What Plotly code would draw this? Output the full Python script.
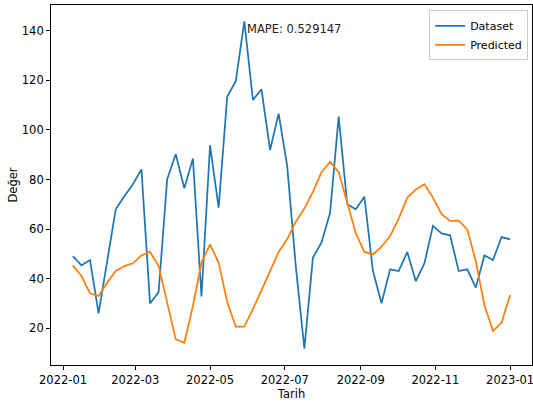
import pandas as pd
import plotly.graph_objects as go

# Weekly observation dates (Sundays)
dates = pd.date_range("2022-01-09", "2023-01-01", freq="7D")

dataset = [
    49.1, 45.4, 47.5, 26.0, 47.0, 68.0, 73.3, 78.1, 84.1, 30.0,
    34.6, 80.1, 90.2, 76.5, 88.5, 32.8, 93.8, 68.7, 113.4, 119.7,
    143.8, 112.1, 116.4, 91.9, 106.6, 85.4, 45.0, 11.8, 48.5, 54.6,
    66.6, 105.4, 70.0, 68.0, 73.1, 43.1, 30.1, 43.8, 43.1, 50.8,
    39.0, 46.2, 61.3, 58.3, 57.5, 43.1, 43.8, 36.4, 49.4, 47.5,
    56.8, 55.9,
]

predicted = [
    45.4, 41.1, 34.1, 33.0, 38.4, 43.1, 45.1, 46.2, 49.4, 50.9,
    45.1, 30.4, 15.6, 14.2, 29.0, 46.5, 53.9, 46.5, 30.6, 20.7,
    20.7, 27.7, 35.7, 43.1, 50.8, 56.0, 63.0, 68.3, 75.0, 83.0,
    87.1, 83.0, 70.7, 58.3, 50.8, 49.8, 52.9, 57.2, 64.2, 72.7,
    76.0, 78.1, 72.7, 66.0, 63.3, 63.4, 59.9, 47.0, 29.3, 18.9,
    22.3, 33.4,
]

mape_text = "MAPE: 0.529147"
x_ticks = ["2022-01-01", "2022-03-01", "2022-05-01", "2022-07-01",
           "2022-09-01", "2022-11-01", "2023-01-01"]
y_ticks = [20, 40, 60, 80, 100, 120, 140]

BLUE = "#1f77b4"
ORANGE = "#ff7f0e"
FONT = "DejaVu Sans"

fig = go.Figure()
fig.add_trace(go.Scatter(x=dates, y=dataset, mode="lines", name="Dataset",
                         line=dict(color=BLUE, width=1.75)))
fig.add_trace(go.Scatter(x=dates, y=predicted, mode="lines", name="Predicted",
                         line=dict(color=ORANGE, width=1.75)))

# 5% padding around the data, like matplotlib's default margins
span = dates[-1] - dates[0]
x_range = [dates[0] - span * 0.05, dates[-1] + span * 0.05]
all_vals = dataset + predicted
lo, hi = min(all_vals), max(all_vals)
pad = (hi - lo) * 0.05
y_range = [lo - pad, hi + pad]

peak_idx = dataset.index(max(dataset))
fig.add_annotation(x=dates[peak_idx], y=dataset[peak_idx], text=mape_text,
                   showarrow=False, xanchor="left", yanchor="top",
                   xshift=1, yshift=1,
                   font=dict(family=FONT, size=11.5, color="#222"))

axis_common = dict(
    showline=True, linecolor="black", linewidth=0.9, mirror=True,
    ticks="outside", ticklen=4, tickwidth=0.9, tickcolor="black",
    showgrid=False, zeroline=False, automargin=False,
    ticklabeloverflow="allow",
    tickfont=dict(family=FONT, size=11.5, color="black"),
)

fig.update_layout(
    width=533, height=403,
    margin=dict(l=51, r=1, t=5, b=38),
    paper_bgcolor="white", plot_bgcolor="white",
    font=dict(family=FONT, size=11.5, color="black"),
    showlegend=True,
    legend=dict(x=0.992, y=0.985, xanchor="right", yanchor="top",
                bgcolor="rgba(255,255,255,0.8)", bordercolor="#cccccc",
                borderwidth=1, itemwidth=30,
                font=dict(family=FONT, size=11, color="black"),
                tracegroupgap=0),
    xaxis=dict(axis_common, range=x_range, tickvals=x_ticks, tickformat="%Y-%m",
               title=dict(text="Tarih", standoff=4,
                          font=dict(family=FONT, size=11.5))),
    yaxis=dict(axis_common, range=y_range, tickvals=y_ticks,
               title=dict(text="Değer", standoff=1,
                          font=dict(family=FONT, size=11.5))),
)

fig.write_html("out.html")
